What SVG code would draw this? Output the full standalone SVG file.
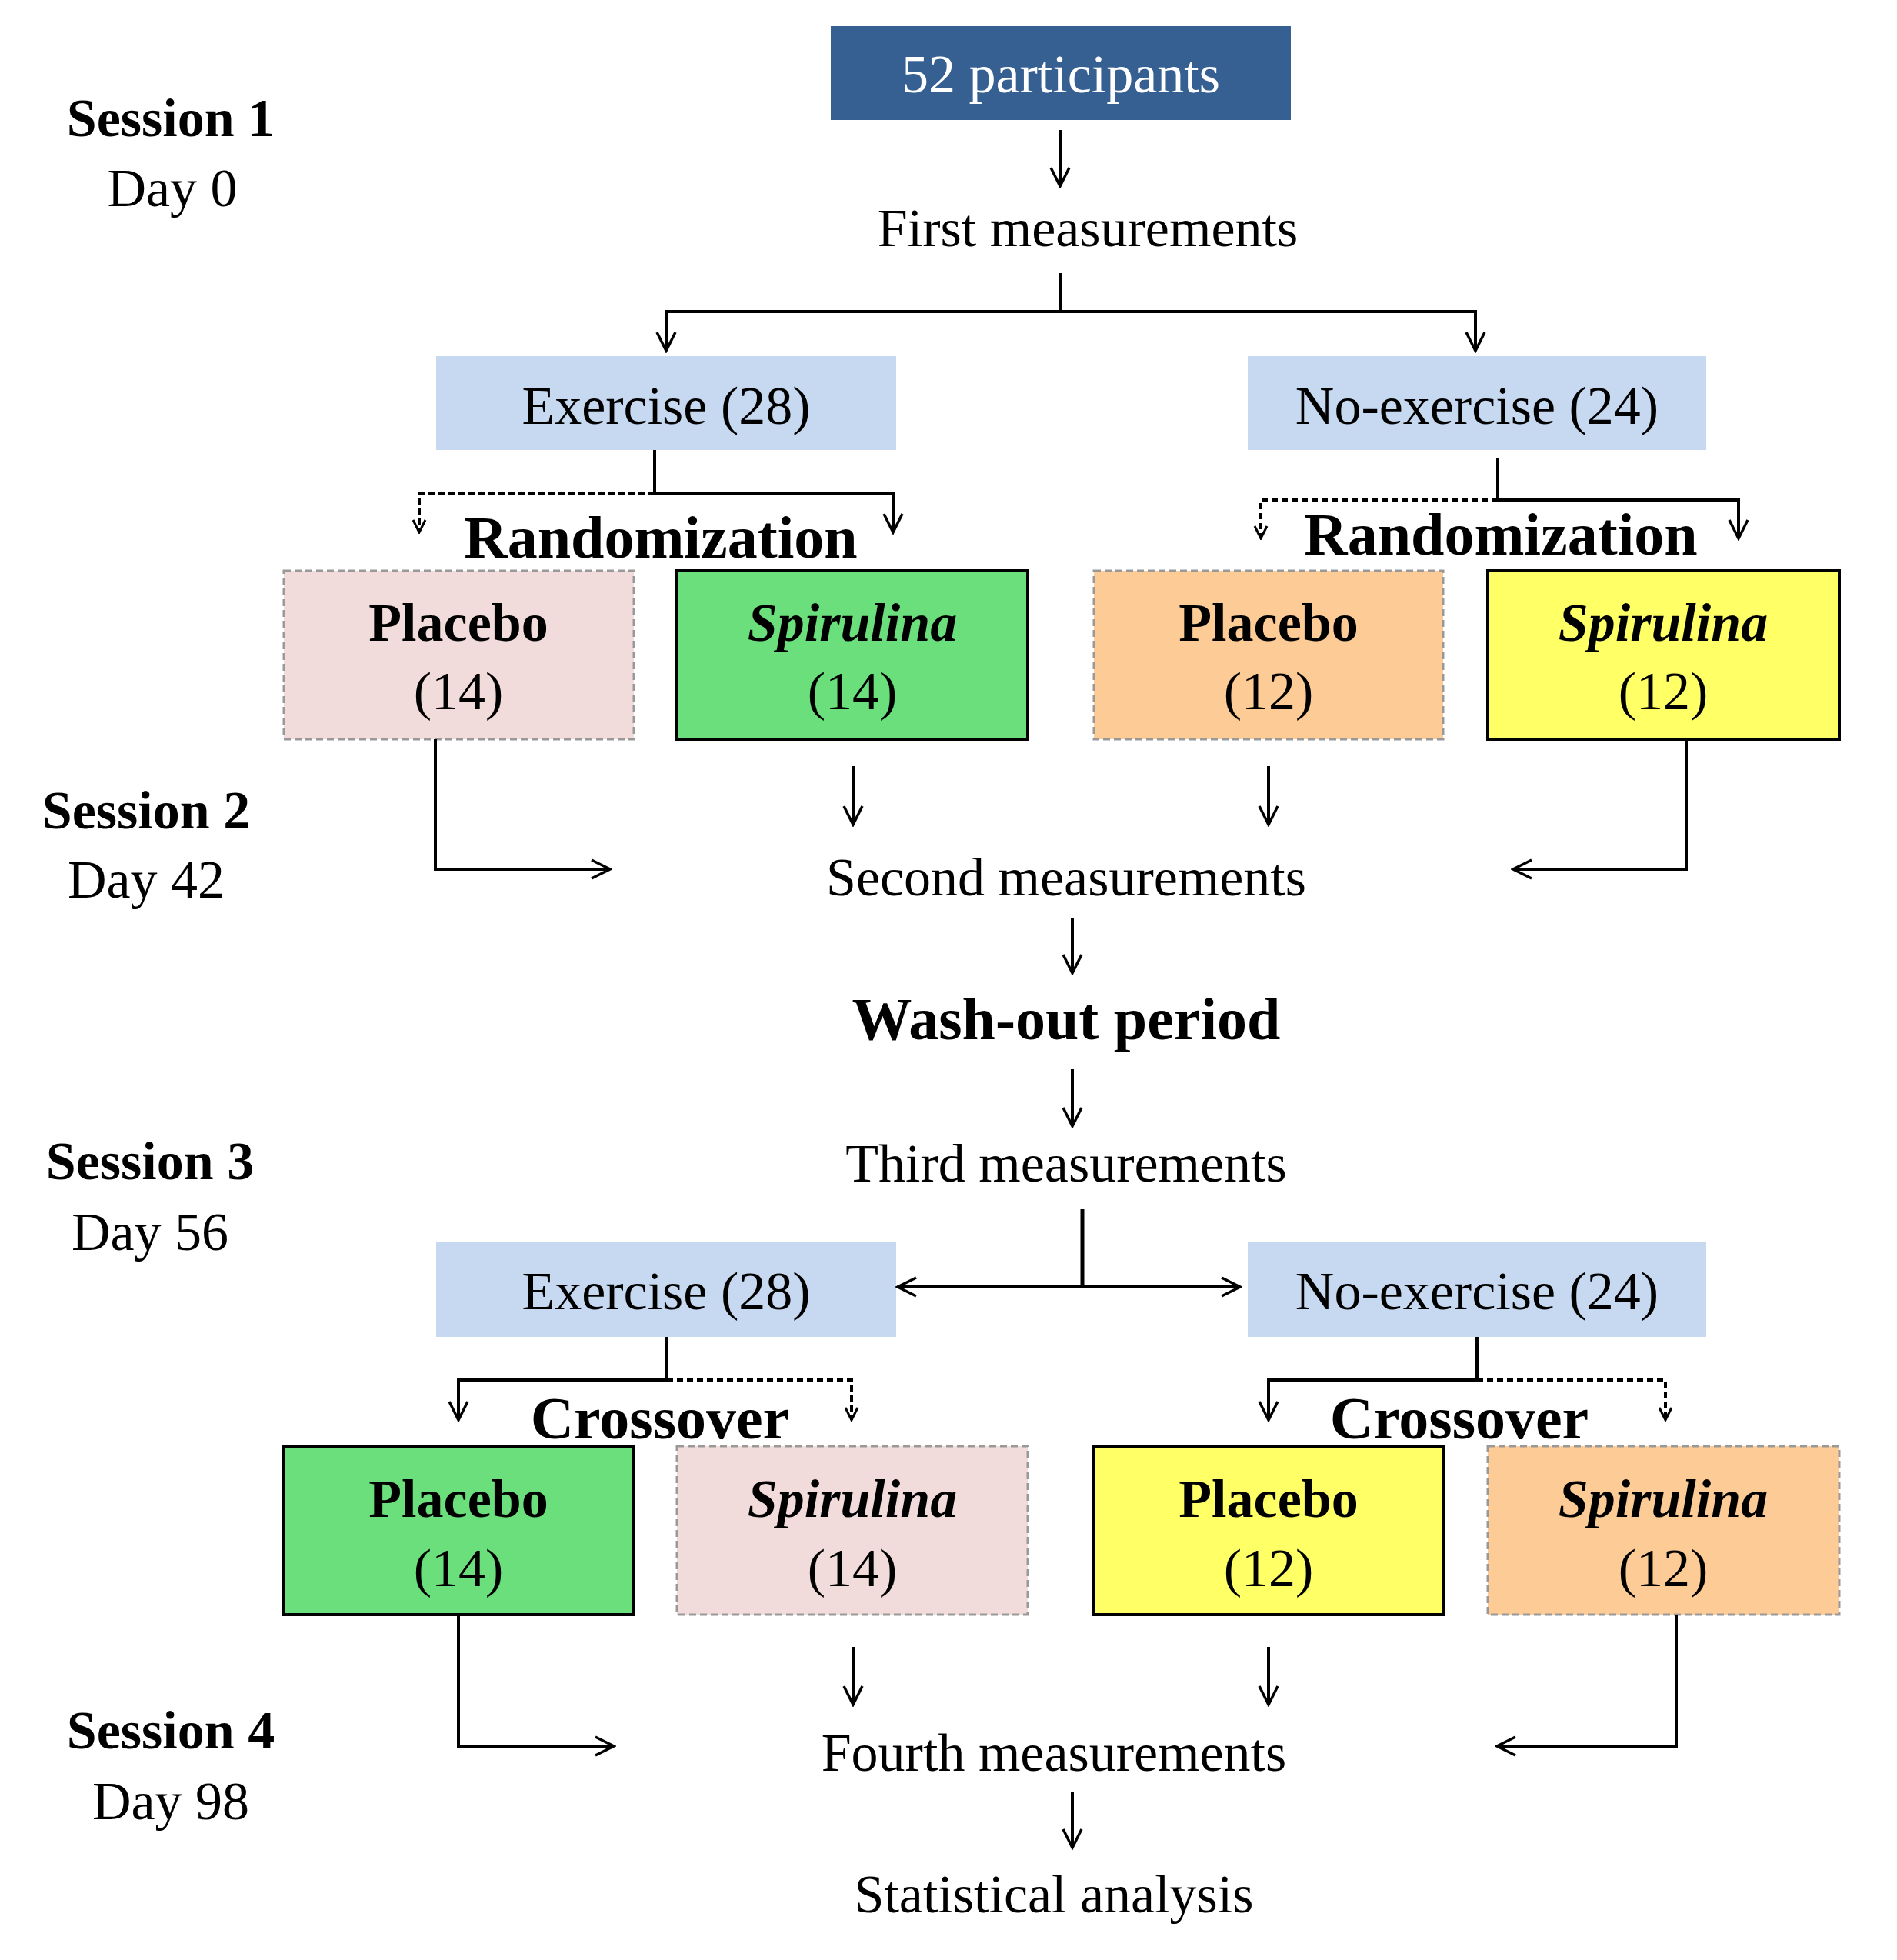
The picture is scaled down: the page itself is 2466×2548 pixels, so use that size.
<svg xmlns="http://www.w3.org/2000/svg" width="2466" height="2548" viewBox="0 0 2466 2548">
<style>
text{font-family:"Liberation Serif","Times New Roman",serif;font-size:70px;text-anchor:middle;fill:#000}
.b{font-weight:bold}
.i{font-style:italic;font-weight:bold}
.h{font-size:78px;font-weight:bold}
.c{fill:none;stroke:#000;stroke-width:4}
.d{stroke-dasharray:8,5}
.sd{stroke:#999;stroke-width:3;stroke-dasharray:9,5}
.sk{stroke:#000;stroke-width:4}
</style>
<defs>
<marker id="a" viewBox="0 0 20 20" refX="18" refY="10" markerWidth="20" markerHeight="20" markerUnits="userSpaceOnUse" orient="auto">
<polyline points="2,2 18,10 2,18" fill="none" stroke="#000" stroke-width="3"/>
</marker>
<marker id="m" viewBox="0 0 30 30" refX="27" refY="15" markerWidth="30" markerHeight="30" markerUnits="userSpaceOnUse" orient="auto">
<polyline points="3,3 27,15 3,27" fill="none" stroke="#000" stroke-width="3.5"/>
</marker>
</defs>
<g id="sessions">
<text class="b" x="222" y="177">Session 1</text><text x="224" y="268">Day 0</text>
<text class="b" x="190" y="1077">Session 2</text><text x="190" y="1167">Day 42</text>
<text class="b" x="195" y="1533">Session 3</text><text x="195" y="1625">Day 56</text>
<text class="b" x="222" y="2273">Session 4</text><text x="222" y="2365">Day 98</text>
</g>
<g id="n52"><rect x="1080" y="34" width="598" height="122" fill="#376092"/><text x="1379" y="120" fill="#fff" style="fill:#fff">52 participants</text></g>
<g id="first"><text x="1414" y="320">First measurements</text></g>
<g id="ex1"><rect x="567" y="463" width="598" height="122" fill="#C6D9F0"/><text x="866" y="551">Exercise (28)</text></g>
<g id="nex1"><rect x="1622" y="463" width="596" height="122" fill="#C6D9F0"/><text x="1920" y="551">No-exercise (24)</text></g>
<g id="rand1"><text class="h" x="859" y="725">Randomization</text></g>
<g id="rand2"><text class="h" x="1951" y="721">Randomization</text></g>
<g id="p1"><rect x="369" y="742" width="455" height="219" fill="#F2DCDB" class="sd"/><text class="b" x="596" y="833">Placebo</text><text x="596" y="922">(14)</text></g>
<g id="s1"><rect x="880" y="742" width="456" height="219" fill="#6ADF7C" class="sk"/><text class="i" x="1108" y="833">Spirulina</text><text x="1108" y="922">(14)</text></g>
<g id="p2"><rect x="1422" y="742" width="454" height="219" fill="#FCCB96" class="sd"/><text class="b" x="1649" y="833">Placebo</text><text x="1649" y="922">(12)</text></g>
<g id="s2"><rect x="1934" y="742" width="457" height="219" fill="#FFFF66" class="sk"/><text class="i" x="2162" y="833">Spirulina</text><text x="2162" y="922">(12)</text></g>
<g id="second"><text x="1386" y="1164">Second measurements</text></g>
<g id="wash"><text class="h" x="1386" y="1351">Wash-out period</text></g>
<g id="third"><text x="1386" y="1536">Third measurements</text></g>
<g id="ex2"><rect x="567" y="1615" width="598" height="123" fill="#C6D9F0"/><text x="866" y="1702">Exercise (28)</text></g>
<g id="nex2"><rect x="1622" y="1615" width="596" height="123" fill="#C6D9F0"/><text x="1920" y="1702">No-exercise (24)</text></g>
<g id="cross1"><text class="h" x="858" y="1870">Crossover</text></g>
<g id="cross2"><text class="h" x="1897" y="1870">Crossover</text></g>
<g id="p3"><rect x="369" y="1880" width="455" height="219" fill="#6ADF7C" class="sk"/><text class="b" x="596" y="1972">Placebo</text><text x="596" y="2062">(14)</text></g>
<g id="s3"><rect x="880" y="1880" width="456" height="219" fill="#F2DCDB" class="sd"/><text class="i" x="1108" y="1972">Spirulina</text><text x="1108" y="2062">(14)</text></g>
<g id="p4"><rect x="1422" y="1880" width="454" height="219" fill="#FFFF66" class="sk"/><text class="b" x="1649" y="1972">Placebo</text><text x="1649" y="2062">(12)</text></g>
<g id="s4"><rect x="1934" y="1880" width="457" height="219" fill="#FCCB96" class="sd"/><text class="i" x="2162" y="1972">Spirulina</text><text x="2162" y="2062">(12)</text></g>
<g id="fourth"><text x="1370" y="2302">Fourth measurements</text></g>
<g id="stat"><text x="1370" y="2486">Statistical analysis</text></g>
<g id="connectors" class="c">
<path class="c" d="M1378 169V242" marker-end="url(#m)"/>
<path class="c" d="M1378 355V405"/>
<path class="c" d="M1378 405H866V456" marker-end="url(#m)"/>
<path class="c" d="M1378 405H1918V456" marker-end="url(#m)"/>
<path class="c" d="M851 585V642H1161V692" marker-end="url(#m)"/>
<path class="c d" d="M851 642H545V692" marker-end="url(#a)"/>
<path class="c" d="M1947 596V650H2260V700" marker-end="url(#m)"/>
<path class="c d" d="M1947 650H1639V700" marker-end="url(#a)"/>
<path class="c" d="M566 961V1130H793" marker-end="url(#m)"/>
<path class="c" d="M1109 996V1072" marker-end="url(#m)"/>
<path class="c" d="M1649 996V1072" marker-end="url(#m)"/>
<path class="c" d="M2192 961V1130H1967" marker-end="url(#m)"/>
<path class="c" d="M1394 1193V1265" marker-end="url(#m)"/>
<path class="c" d="M1394 1390V1464" marker-end="url(#m)"/>
<path class="c" style="stroke-width:5" d="M1407 1572V1673"/>
<path class="c" d="M1407 1673H1167" marker-end="url(#m)"/>
<path class="c" d="M1407 1673H1612" marker-end="url(#m)"/>
<path class="c" d="M867 1738V1794H596V1846" marker-end="url(#m)"/>
<path class="c d" d="M867 1794H1107V1846" marker-end="url(#a)"/>
<path class="c" d="M1920 1738V1794H1649V1846" marker-end="url(#m)"/>
<path class="c d" d="M1920 1794H2165V1846" marker-end="url(#a)"/>
<path class="c" d="M596 2099V2270H798" marker-end="url(#m)"/>
<path class="c" d="M1109 2141V2216" marker-end="url(#m)"/>
<path class="c" d="M1649 2141V2216" marker-end="url(#m)"/>
<path class="c" d="M2179 2099V2270H1946" marker-end="url(#m)"/>
<path class="c" d="M1394 2329V2402" marker-end="url(#m)"/>
</g>
</svg>
